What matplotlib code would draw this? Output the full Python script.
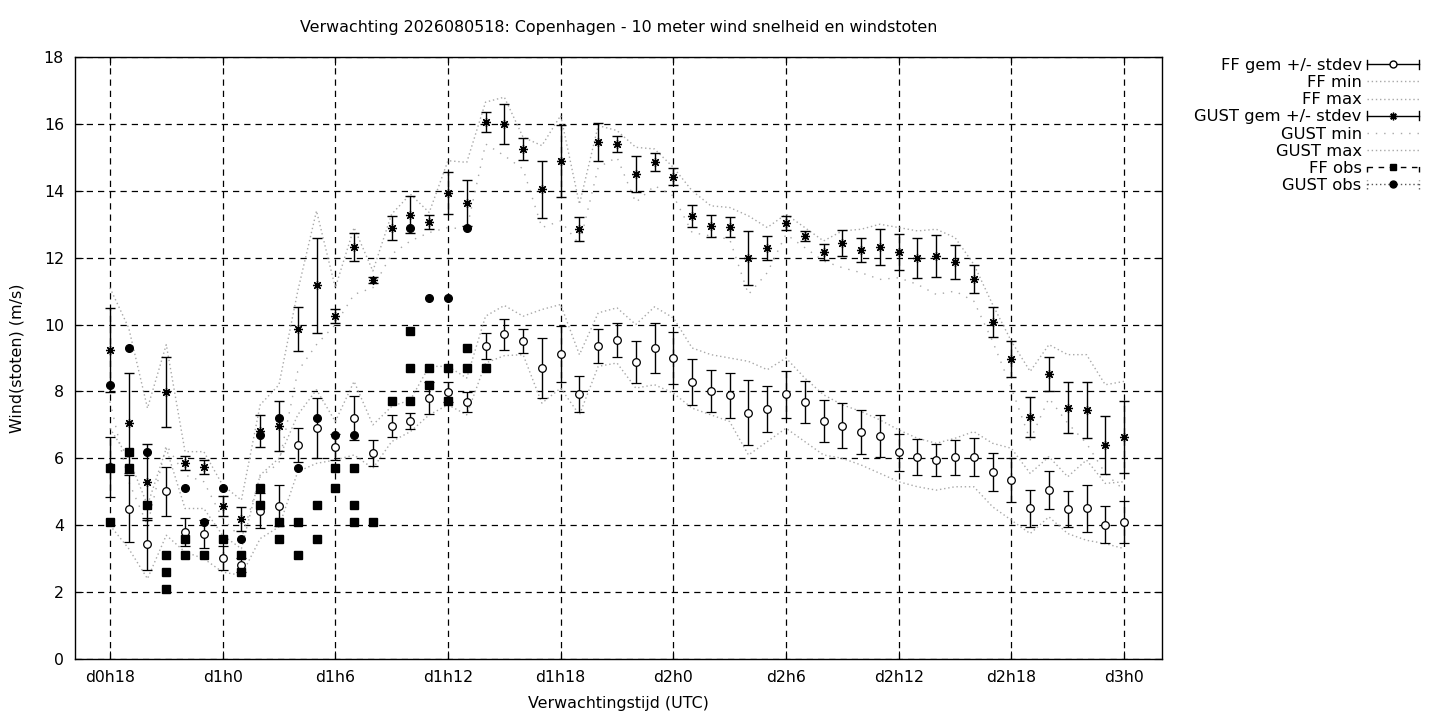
"""Ensemble wind forecast for Copenhagen: 10 m wind speed and gusts (gnuplot-like style)."""
import matplotlib
matplotlib.use("Agg")
import matplotlib.pyplot as plt
from matplotlib.legend_handler import HandlerBase
from matplotlib.lines import Line2D

# forecast hours since d0h0, one value per hour (d0h18 .. d3h0)
hours = list(range(18, 73))

ff_mean = [5.74, 4.49, 3.44, 5.02, 3.80, 3.74, 3.02, 2.81, 4.43, 4.58,
           6.40, 6.90, 6.34, 7.20, 6.16, 6.97, 7.12, 7.80, 7.98, 7.69,
           9.36, 9.71, 9.51, 8.70, 9.12, 7.93, 9.36, 9.54, 8.88, 9.30,
           9.00, 8.28, 8.02, 7.89, 7.37, 7.47, 7.91, 7.68, 7.12, 6.97,
           6.78, 6.67, 6.18, 6.04, 5.95, 6.03, 6.03, 5.59, 5.35, 4.51,
           5.05, 4.48, 4.51, 4.01, 4.09]
ff_sd = [0.90, 1.00, 0.78, 0.73, 0.42, 0.43, 0.36, 0.20, 0.52, 0.61,
         0.50, 0.90, 0.39, 0.66, 0.39, 0.33, 0.23, 0.47, 0.31, 0.30,
         0.40, 0.47, 0.35, 0.89, 0.84, 0.54, 0.50, 0.50, 0.63, 0.74,
         0.77, 0.70, 0.63, 0.67, 0.96, 0.69, 0.69, 0.63, 0.63, 0.67,
         0.66, 0.63, 0.55, 0.54, 0.48, 0.53, 0.57, 0.58, 0.65, 0.55,
         0.57, 0.54, 0.70, 0.55, 0.62]
ff_min = [4.00, 3.30, 2.40, 3.70, 3.20, 3.00, 2.60, 2.50, 3.60, 3.95,
          5.60, 5.85, 5.95, 6.10, 5.70, 6.50, 6.80, 7.30, 7.60, 7.30,
          8.85, 9.07, 9.10, 7.65, 8.10, 7.30, 8.75, 8.85, 8.10, 8.20,
          7.95, 7.50, 7.30, 7.10, 6.10, 6.50, 6.90, 6.50, 6.10, 6.00,
          5.80, 5.55, 5.30, 5.15, 5.05, 5.15, 5.15, 4.55, 4.15, 3.75,
          4.25, 3.75, 3.55, 3.45, 3.30]
ff_max = [6.90, 6.00, 4.60, 6.30, 4.50, 4.50, 3.70, 3.30, 5.50, 6.00,
          7.30, 8.05, 7.10, 8.30, 7.00, 7.55, 7.75, 8.75, 8.75, 8.40,
          10.25, 10.57, 10.25, 10.45, 10.60, 9.10, 10.35, 10.50, 10.00, 10.53,
          10.20, 9.30, 9.10, 9.00, 8.90, 8.65, 9.00, 8.40, 7.90, 7.60,
          7.40, 7.15, 6.85, 6.60, 6.45, 6.60, 6.80, 6.45, 6.30, 5.55,
          6.05, 5.45, 5.95, 5.25, 5.30]

gust_mean = [9.24, 7.05, 5.29, 7.98, 5.86, 5.74, 4.58, 4.19, 6.82, 6.97,
             9.87, 11.18, 10.26, 12.32, 11.33, 12.89, 13.28, 13.07, 13.94, 13.64,
             16.06, 16.00, 15.25, 14.05, 14.89, 12.86, 15.46, 15.40, 14.50, 14.86,
             14.42, 13.25, 12.95, 12.92, 12.00, 12.29, 13.04, 12.65, 12.17, 12.44,
             12.23, 12.32, 12.17, 12.00, 12.05, 11.87, 11.36, 10.08, 8.97, 7.24,
             8.52, 7.51, 7.45, 6.40, 6.64]
gust_sd = [1.26, 1.50, 1.14, 1.05, 0.20, 0.22, 0.30, 0.36, 0.48, 0.75,
           0.66, 1.42, 0.21, 0.42, 0.09, 0.36, 0.55, 0.20, 0.63, 0.69,
           0.30, 0.60, 0.32, 0.85, 1.09, 0.36, 0.56, 0.23, 0.54, 0.27,
           0.26, 0.32, 0.32, 0.29, 0.81, 0.36, 0.21, 0.14, 0.24, 0.38,
           0.36, 0.54, 0.53, 0.60, 0.62, 0.51, 0.41, 0.44, 0.54, 0.60,
           0.50, 0.76, 0.84, 0.86, 1.07]
gust_min = [7.70, 5.30, 4.00, 6.40, 5.50, 5.30, 4.20, 3.60, 5.45, 5.85,
            8.60, 9.40, 10.00, 10.90, 11.10, 12.10, 12.50, 12.75, 12.90, 12.85,
            15.40, 15.05, 14.65, 12.90, 13.10, 12.40, 14.70, 15.00, 13.65, 14.15,
            13.85, 12.75, 12.65, 12.55, 10.90, 11.55, 12.70, 12.30, 11.90, 11.70,
            11.55, 11.35, 11.40, 11.20, 10.90, 11.00, 10.70, 9.50, 8.10, 6.55,
            7.80, 7.05, 6.45, 5.55, 5.05]
gust_max = [11.10, 9.90, 7.50, 9.40, 6.20, 6.20, 5.20, 4.75, 7.60, 8.20,
            11.00, 13.40, 11.10, 12.90, 11.60, 13.30, 13.90, 13.35, 14.90, 14.85,
            16.65, 16.80, 15.60, 15.35, 16.25, 13.60, 15.95, 15.80, 15.30, 15.25,
            14.70, 14.00, 13.55, 13.50, 13.25, 12.90, 13.30, 12.90, 12.50, 12.80,
            12.85, 13.00, 12.90, 12.80, 12.85, 12.60, 11.80, 10.60, 9.50, 8.60,
            9.40, 9.10, 9.10, 8.20, 8.30]

# observations (several per hour)
ff_obs_hour = [18, 18, 19, 19, 20, 21, 21, 21, 22, 22, 23, 24, 25, 25, 26, 26,
               27, 27, 28, 28, 29, 29, 30, 30, 31, 31, 31, 32, 33, 34, 34, 34,
               35, 35, 36, 36, 37, 37, 38]
ff_obs_val = [5.7, 4.1, 6.2, 5.7, 4.6, 3.1, 2.6, 2.1, 3.6, 3.1, 3.1, 3.6, 3.1, 2.6, 5.1, 4.6,
              4.1, 3.6, 4.1, 3.1, 4.6, 3.6, 5.7, 5.1, 5.7, 4.6, 4.1, 4.1, 7.7, 9.8, 8.7, 7.7,
              8.7, 8.2, 8.7, 7.7, 9.3, 8.7, 8.7]
gust_obs_hour = [18, 19, 20, 22, 23, 24, 25, 26, 27, 28, 29, 30, 31, 34, 35, 36, 37]
gust_obs_val = [8.2, 9.3, 6.2, 5.1, 4.1, 5.1, 3.6, 6.7, 7.2, 5.7, 7.2, 6.7, 6.7,
                12.9, 10.8, 10.8, 12.9]

tick_hours = [18, 24, 30, 36, 42, 48, 54, 60, 66, 72]
tick_labels = ["d0h18", "d1h0", "d1h6", "d1h12", "d1h18",
               "d2h0", "d2h6", "d2h12", "d2h18", "d3h0"]

GREY = "#a8a8a8"
DENSE = (0, (1, 2))
SPARSE = (0, (1, 5))
ASTER = (8, 2, 0)


class KeyHandler(HandlerBase):
    """gnuplot-like key sample: line, optional end caps, marker in the middle."""

    def __init__(self, ls, caps):
        super().__init__()
        self.ls = ls
        self.caps = caps

    def create_artists(self, legend, orig, xdescent, ydescent, width, height,
                       fontsize, trans):
        y = height / 2.0 - ydescent
        x0, x1 = -xdescent, width - xdescent
        col = orig.get_color()
        lw = orig.get_linewidth()
        arts = [Line2D([x0, x1], [y, y], color=col, linestyle=self.ls, linewidth=lw)]
        if self.caps:
            for x in (x0, x1):
                arts.append(Line2D([x, x], [y - height * 0.4, y + height * 0.4],
                                   color=col, linestyle=self.ls, linewidth=lw))
        if orig.get_marker() not in (None, "None", "none", ""):
            arts.append(Line2D([(x0 + x1) / 2], [y], marker=orig.get_marker(),
                               markersize=orig.get_markersize(),
                               markerfacecolor=orig.get_markerfacecolor(),
                               markeredgecolor=orig.get_markeredgecolor(),
                               markeredgewidth=orig.get_markeredgewidth(),
                               linestyle="none"))
        for a in arts:
            a.set_transform(trans)
        return arts


plt.rcParams["font.family"] = ["DejaVu Sans"]
fig = plt.figure(figsize=(14.4, 7.2), dpi=100)
ax = fig.add_axes([75 / 1440, 61 / 720, 1087 / 1440, 602 / 720])

ax.errorbar(hours, ff_mean, yerr=ff_sd, fmt="o", ms=5.5, mfc="white", mec="black",
            mew=0.9, ecolor="black", elinewidth=1.0, capsize=3.5, capthick=1.0, zorder=4)
ax.plot(hours, ff_min, color=GREY, linestyle=DENSE, linewidth=1.0, zorder=2)
ax.plot(hours, ff_max, color=GREY, linestyle=DENSE, linewidth=1.0, zorder=2)
ax.errorbar(hours, gust_mean, yerr=gust_sd, fmt="none", ecolor="black",
            elinewidth=1.0, capsize=3.5, capthick=1.0, zorder=4)
ax.plot(hours, gust_mean, linestyle="none", marker=ASTER, ms=6.5, mec="black",
        mew=0.9, zorder=5)
ax.plot(hours, gust_min, color=GREY, linestyle=SPARSE, linewidth=1.0, zorder=2)
ax.plot(hours, gust_max, color=GREY, linestyle=DENSE, linewidth=1.0, zorder=2)
ax.plot(ff_obs_hour, ff_obs_val, linestyle="none", marker="s", ms=5.2,
        color="black", zorder=6)
ax.plot(gust_obs_hour, gust_obs_val, linestyle="none", marker="o", ms=5.5,
        color="black", zorder=6)

ax.set_xlim(16.14, 74.02)
ax.set_ylim(0, 18)
ax.set_yticks(range(0, 19, 2))
ax.set_xticks(tick_hours)
ax.set_xticklabels(tick_labels)
ax.tick_params(direction="in", top=True, right=True, length=6, width=0.8,
               labelsize=11.3, pad=8)
ax.grid(True, color="black", linestyle=(0, (5, 4)), linewidth=0.9)
ax.set_axisbelow(True)
for sp in ax.spines.values():
    sp.set_linewidth(1.0)

ax.set_title("Verwachting 2026080518: Copenhagen - 10 meter wind snelheid en windstoten",
             fontsize=11.4, pad=18)
ax.set_xlabel("Verwachtingstijd (UTC)", fontsize=11.4, labelpad=8)
ax.set_ylabel("Wind(stoten) (m/s)", fontsize=11.4, labelpad=14)

# legend handles (gnuplot key: label first, sample on the right)
keys = [
    (Line2D([], [], color="black", marker="o", ms=5, mfc="white", mec="black", lw=1.0),
     "FF gem +/- stdev", "-", True),
    (Line2D([], [], color=GREY, lw=1.0), "FF min", DENSE, False),
    (Line2D([], [], color=GREY, lw=1.0), "FF max", DENSE, False),
    (Line2D([], [], color="black", marker=ASTER, ms=5.5, mec="black", lw=1.0),
     "GUST gem +/- stdev", "-", True),
    (Line2D([], [], color=GREY, lw=1.0), "GUST min", SPARSE, False),
    (Line2D([], [], color=GREY, lw=1.0), "GUST max", DENSE, False),
    (Line2D([], [], color="black", marker="s", ms=5, mfc="black", mec="black", lw=1.0),
     "FF obs", (0, (4, 4)), True),
    (Line2D([], [], color="#555555", marker="o", ms=5, mfc="black", mec="black", lw=1.0),
     "GUST obs", (0, (1, 2)), True),
]
handles = [k[0] for k in keys]
labels = [k[1] for k in keys]
hmap = {k[0]: KeyHandler(k[2], k[3]) for k in keys}
fig.legend(handles, labels, handler_map=hmap, loc="upper right",
           bbox_to_anchor=(1419 / 1440, 1 - 58 / 720), frameon=False,
           markerfirst=False, fontsize=11.8, handlelength=3.2, handletextpad=0.3,
           labelspacing=0.13, borderpad=0.0, borderaxespad=0.0)

fig.savefig("out.png", dpi=100)
